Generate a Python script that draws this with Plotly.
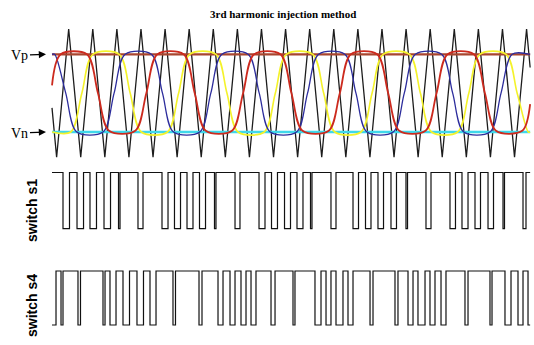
import plotly.graph_objects as go

# ---------------- data (time in ms) ----------------
T_END = 99.2
carrier_peak_t = [3.46 + 5 * k for k in range(20)]      # read: peaks every ~5 ms
carrier_trough_t = [0.96 + 5 * k for k in range(20)]
carrier_peak_v = 1.65
carrier_trough_v = -1.65
carrier_start_v = -0.38
carrier_end_v = 0.66

vp_level = 1.0
vn_level = -1.0

red_t = [0, 1.8, 7.24, 9.54, 11.84, 17.27, 19.57, 21.87, 27.31, 29.61, 31.91, 37.34, 39.64, 41.94,
         47.38, 49.68, 51.98, 57.41, 59.71, 62.01, 67.45, 69.75, 72.05, 77.48, 79.78, 82.08,
         87.52, 89.82, 92.12, 97.55, 99.2]
red_v = [0.2, 1, 1, 0, -0.97, -0.97, 0, 1, 1, 0, -0.97, -0.97, 0, 1, 1, 0, -0.97, -0.97, 0, 1, 1, 0,
         -0.97, -0.97, 0, 1, 1, 0, -0.97, -0.97, -0.28]

yellow_t = [0, 3.89, 6.19, 8.49, 13.93, 16.23, 18.53, 23.96, 26.26, 28.56, 34.0, 36.30, 38.60, 44.03,
            46.33, 48.63, 54.07, 56.37, 58.67, 64.10, 66.40, 68.70, 74.14, 76.44, 78.74, 84.17,
            86.47, 88.77, 94.21, 96.51, 98.81, 99.2]
yellow_v = [-1, -1, 0, 1, 1, 0, -1, -1, 0, 1, 1, 0, -1, -1, 0, 1, 1, 0, -1, -1, 0, 1, 1, 0, -1, -1,
            0, 1, 1, 0, -1, -1]

blue_t = [0, 0.55, 2.85, 5.15, 10.58, 12.88, 15.18, 20.62, 22.92, 25.22, 30.65, 32.95, 35.25, 40.69,
          42.99, 45.29, 50.72, 53.02, 55.32, 60.76, 63.06, 65.36, 70.79, 73.09, 75.39, 80.83,
          83.13, 85.43, 90.86, 93.16, 95.46, 99.2]
blue_v = [1, 1, 0, -1, -1, 0, 1, 1, 0, -1, -1, 0, 1, 1, 0, -1, -1, 0, 1, 1, 0, -1, -1, 0, 1, 1, 0,
          -1, -1, 0, 1, 1]

# switch s1: starts high; (start, end) of each low interval
s1_low_start = [2.28, 5.19, 7.88, 10.79, 13.80, 17.84,
                22.82, 25.41, 28.01, 30.60, 33.71, 37.97,
                42.95, 45.54, 48.24, 50.83, 53.63, 57.88,
                62.45, 65.04, 67.63, 70.33, 73.44, 77.59,
                82.57, 85.06, 87.76, 90.46, 93.57, 97.72]
s1_low_end = [3.63, 6.54, 9.23, 12.14, 14.11, 18.88,
              24.07, 26.66, 29.25, 31.85, 34.02, 39.00,
              44.19, 46.78, 49.48, 52.07, 53.94, 58.92,
              63.59, 66.18, 68.78, 71.47, 73.76, 78.63,
              83.71, 86.31, 88.90, 91.60, 93.88, 98.34]

# switch s4: starts low, rises, then (start, end) of each low interval
s4_first_rise = 0.83
s4_low_start = [1.87, 5.39, 10.58, 12.03, 14.73, 17.63, 20.33, 25.10, 30.50,
                34.44, 36.93, 39.21, 41.29, 45.44, 50.00,
                54.56, 56.85, 58.92, 61.41, 65.98, 71.16,
                73.86, 75.93, 78.42, 80.71, 85.68, 90.87,
                93.98, 96.68, 98.76]
s4_low_end = [2.28, 5.91, 11.00, 13.28, 16.08, 18.98, 21.58, 25.62, 31.12,
              35.48, 37.97, 40.25, 42.32, 46.27, 50.41,
              55.81, 57.88, 60.37, 62.45, 66.60, 71.78,
              74.90, 77.39, 79.46, 81.74, 86.31, 91.29,
              95.23, 97.72, 99.2]

title_text = "3rd harmonic injection method"
vp_label = "Vp"
vn_label = "Vn"
s1_label = "switch s1"
s4_label = "switch s4"

# ---------------- build ----------------
ct, cv = [0.0], [carrier_start_v]
for tr, pk in zip(carrier_trough_t, carrier_peak_t):
    ct += [tr, pk]
    cv += [carrier_trough_v, carrier_peak_v]
ct.append(T_END)
cv.append(carrier_end_v)


def switch_trace(start_high, first_rise, lows_s, lows_e):
    xs, ys = [0.0], [1 if start_high else 0]
    if not start_high:
        xs.append(first_rise); ys.append(1)
    for a, b in zip(lows_s, lows_e):
        xs += [a, b]
        ys += [0, 1 if b < T_END else 0]
    if xs[-1] < T_END:
        xs.append(T_END); ys.append(ys[-1])
    return xs, ys


s1x, s1y = switch_trace(True, None, s1_low_start, s1_low_end)
s4x, s4y = switch_trace(False, s4_first_rise, s4_low_start, s4_low_end)

fig = go.Figure()
fig.add_trace(go.Scatter(x=ct, y=cv, mode="lines", line=dict(color="#1c1c1c", width=1.3),
                         xaxis="x", yaxis="y"))
fig.add_trace(go.Scatter(x=[0, T_END], y=[vp_level, vp_level], mode="lines",
                         line=dict(color="#a8452e", width=2.2), xaxis="x", yaxis="y"))
fig.add_trace(go.Scatter(x=[0, T_END], y=[vn_level, vn_level], mode="lines",
                         line=dict(color="#3fd8ea", width=2.4), xaxis="x", yaxis="y"))
fig.add_trace(go.Scatter(x=yellow_t, y=yellow_v, mode="lines", line_shape="spline",
                         line=dict(color="#f4f22a", width=1.6, smoothing=0.9), xaxis="x", yaxis="y"))
fig.add_trace(go.Scatter(x=blue_t, y=blue_v, mode="lines", line_shape="spline",
                         line=dict(color="#2c2c9c", width=1.3, smoothing=0.9), xaxis="x", yaxis="y"))
fig.add_trace(go.Scatter(x=red_t, y=red_v, mode="lines", line_shape="spline",
                         line=dict(color="#cc2a1e", width=1.8, smoothing=0.9), xaxis="x", yaxis="y"))
fig.add_trace(go.Scatter(x=s1x, y=s1y, mode="lines", line_shape="hv",
                         line=dict(color="#111111", width=1.2), xaxis="x2", yaxis="y2"))
fig.add_trace(go.Scatter(x=s4x, y=s4y, mode="lines", line_shape="hv",
                         line=dict(color="#111111", width=1.2), xaxis="x3", yaxis="y3"))

xr = [-10.79, 100.0]
hid = dict(visible=False, showgrid=False, zeroline=False, fixedrange=True)
fig.update_layout(
    width=534, height=345, margin=dict(l=0, r=0, t=0, b=0),
    paper_bgcolor="white", plot_bgcolor="rgba(0,0,0,0)", showlegend=False,
    hovermode=False,
    xaxis=dict(domain=[0, 1], range=xr, anchor="y", **hid),
    yaxis=dict(domain=[0.5275, 0.9275], range=[-1.798, 1.754], anchor="x", **hid),
    xaxis2=dict(domain=[0, 1], range=xr, anchor="y2", **hid),
    yaxis2=dict(domain=[0.3246, 0.5130], range=[-0.08, 1.08], anchor="x2", **hid),
    xaxis3=dict(domain=[0, 1], range=xr, anchor="y3", **hid),
    yaxis3=dict(domain=[0.0435, 0.2290], range=[-0.0926, 1.0926], anchor="x3", **hid),
)

serif = "Liberation Serif, Times New Roman, serif"
sans = "Liberation Sans, Arial, sans-serif"
fig.add_annotation(text="<b>" + title_text + "</b>", x=283 / 534, y=1 - 14 / 345, xref="paper",
                   yref="paper", xanchor="center", yanchor="middle", showarrow=False,
                   font=dict(family=serif, size=11, color="black"))
arrow_tip_t = -1.25
for lab, lev in ((vp_label, vp_level), (vn_label, vn_level)):
    fig.add_annotation(text=lab, x=arrow_tip_t, y=lev, xref="x", yref="y", showarrow=True,
                       ax=-26, ay=1, arrowhead=2, arrowsize=1.1, arrowwidth=1.3,
                       arrowcolor="black", font=dict(family=serif, size=14, color="black"))
fig.add_annotation(text="<b>" + s1_label + "</b>", x=32 / 534, y=1 - 211 / 345, xref="paper",
                   yref="paper", xanchor="center", yanchor="middle", textangle=-90,
                   showarrow=False, font=dict(family=sans, size=14, color="black"))
fig.add_annotation(text="<b>" + s4_label + "</b>", x=32 / 534, y=1 - 306 / 345, xref="paper",
                   yref="paper", xanchor="center", yanchor="middle", textangle=-90,
                   showarrow=False, font=dict(family=sans, size=14, color="black"))

fig.write_html("out.html", config={"displayModeBar": False, "staticPlot": True},
               post_script="document.body.style.margin='0px';")
